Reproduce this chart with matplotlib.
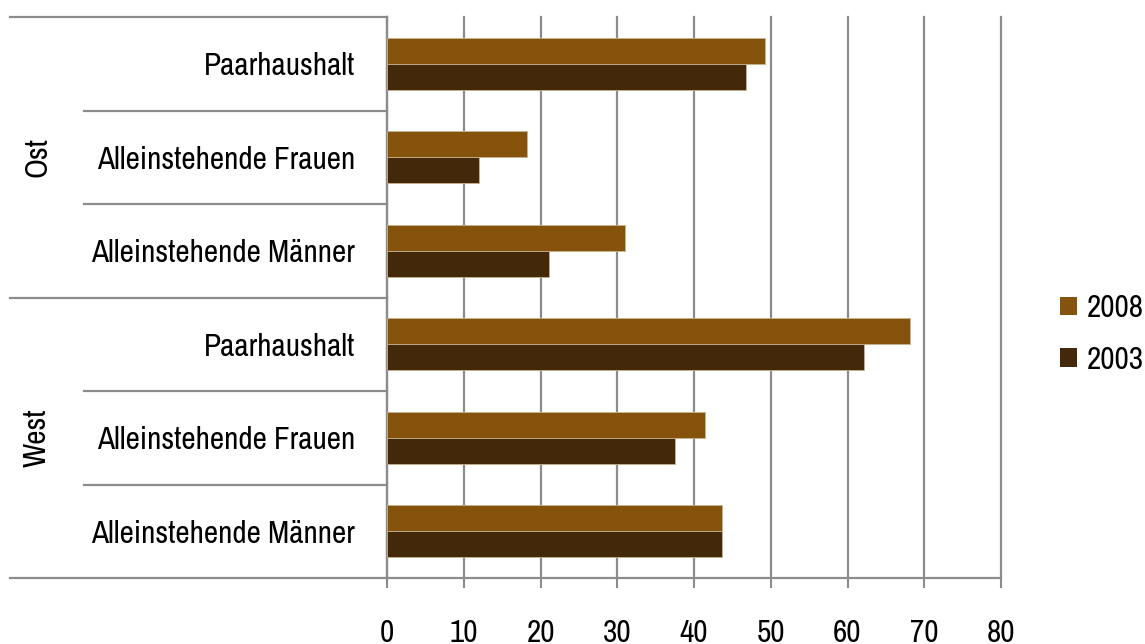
import matplotlib
matplotlib.use("Agg")
import matplotlib.pyplot as plt
import matplotlib.transforms as mtransforms
from matplotlib.patches import Patch
import numpy as np

plt.rcParams['font.family'] = ['Archivo Narrow', 'Roboto Condensed', 'Liberation Sans', 'DejaVu Sans']

categories = ["Paarhaushalt", "Alleinstehende Frauen", "Alleinstehende Männer",
              "Paarhaushalt", "Alleinstehende Frauen", "Alleinstehende Männer"]
groups = ["Ost", "West"]
values_2008 = [49.2, 18.3, 31.0, 68.1, 41.4, 43.7]
values_2003 = [46.8, 12.0, 21.1, 62.1, 37.5, 43.7]
series_names = ["2008", "2003"]
xticks = [0, 10, 20, 30, 40, 50, 60, 70, 80]

c2008 = "#86530d"
c2003 = "#43290a"
grey = "#8c8c8c"
FS = 22.5

W, H = 1145, 644
fig = plt.figure(figsize=(W / 100, H / 100), dpi=100)
ax = fig.add_axes([387 / W, 1 - 578 / H, (1001 - 387) / W, (578 - 17) / H])

y = np.arange(len(categories))
bh = 0.28
ax.barh(y - bh / 2, values_2008, height=bh, color=c2008, edgecolor="#c9b28e", linewidth=0.6, zorder=3, label=series_names[0])
ax.barh(y + bh / 2, values_2003, height=bh, color=c2003, edgecolor="#c9b28e", linewidth=0.6, zorder=3, label=series_names[1])

ax.set_xlim(0, 80)
ax.set_ylim(len(categories) - 0.5, -0.5)
ax.set_xticks(xticks)
ax.set_xticklabels([str(t) for t in xticks], fontsize=FS)
ax.set_yticks(y)
ax.set_yticklabels(categories, fontsize=FS)
ax.tick_params(axis='y', length=0, pad=23)
ax.tick_params(axis='x', length=7.2, width=1.5, color=grey, pad=22, direction='out')

ax.grid(axis='x', color=grey, linewidth=1.6, zorder=0)
for gl in ax.get_xgridlines():
    gl.set_clip_on(False)
for s in ["top", "right"]:
    ax.spines[s].set_visible(False)
for s in ["left", "bottom"]:
    ax.spines[s].set_color(grey)
    ax.spines[s].set_linewidth(1.6)

# category separators
trans = mtransforms.blended_transform_factory(ax.transAxes, ax.transData)
x_inner = (84 - 387) / (1001 - 387)
x_outer = (10 - 387) / (1001 - 387)
for b in np.arange(-0.5, len(categories), 1.0):
    x0 = x_outer if (b + 0.5) % 3 == 0 else x_inner
    ax.plot([x0, 0], [b, b], transform=trans, color=grey, linewidth=1.6, clip_on=False, zorder=1)

# group labels
xg = (37 - 387) / (1001 - 387)
for i, g in enumerate(groups):
    ax.text(xg, 3 * i + 1, g, transform=trans, rotation=90, ha='center', va='center', fontsize=FS)

handles = [Patch(facecolor=c2008), Patch(facecolor=c2003)]
fig.legend(handles, series_names, loc='center left', bbox_to_anchor=(1060 / W, 1 - 334 / H),
           frameon=False, fontsize=FS, handlelength=0.55, handleheight=0.55,
           handletextpad=0.32, borderpad=0, borderaxespad=0, labelspacing=0.76)

fig.savefig("out.png", dpi=100)
